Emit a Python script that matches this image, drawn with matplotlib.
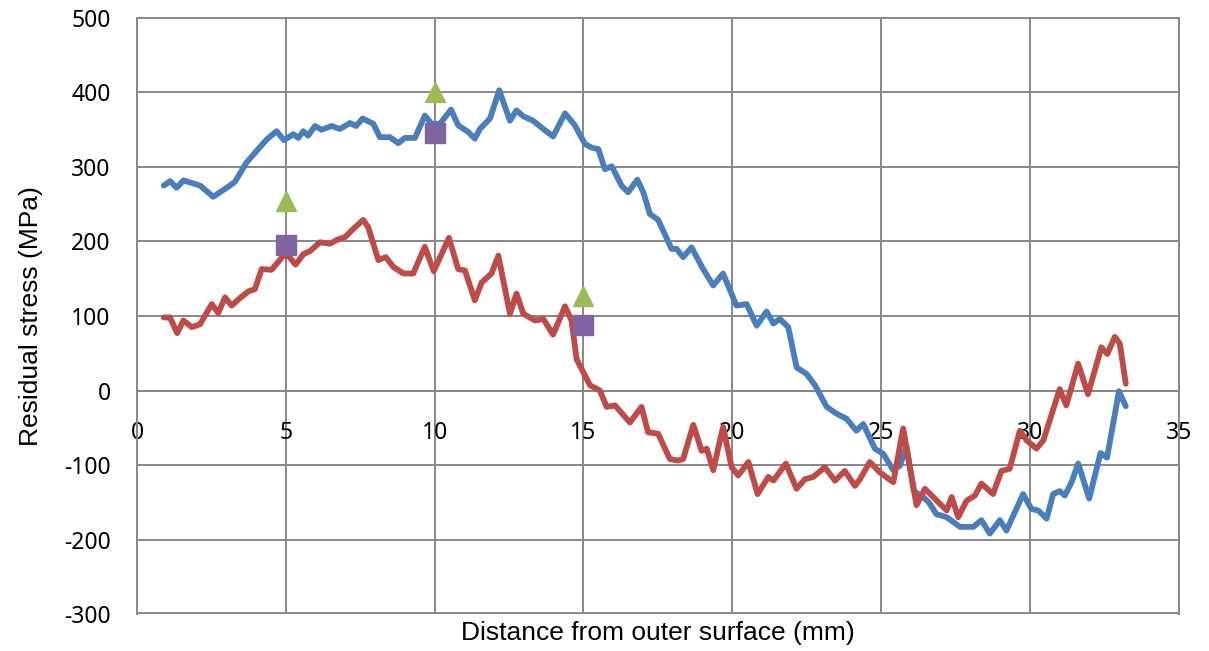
import matplotlib
matplotlib.use("Agg")
import matplotlib.pyplot as plt

plt.rcParams["axes.unicode_minus"] = False

# blue profile
blue_x = [0.9, 1.11, 1.33, 1.56, 2.12, 2.56, 3.01, 3.29, 3.68, 4.36, 4.69, 4.94, 5.25, 5.42, 5.59,
          5.75, 5.98, 6.2, 6.54, 6.82, 7.15, 7.36, 7.58, 7.94, 8.16, 8.5, 8.78, 9.0, 9.34, 9.67,
          9.9, 10.18, 10.55, 10.79, 11.13, 11.35, 11.52, 11.86, 12.17, 12.53, 12.75, 12.98, 13.31,
          13.65, 13.98, 14.38, 14.71, 15.05, 15.27, 15.5, 15.72, 15.95, 16.28, 16.5, 16.81, 17.01,
          17.23, 17.51, 17.96, 18.13, 18.35, 18.63, 19.02, 19.36, 19.69, 20.14, 20.48, 20.82,
          21.15, 21.38, 21.6, 21.88, 22.16, 22.5, 22.78, 23.17, 23.5, 23.84, 24.17, 24.4, 24.79,
          25.07, 25.41, 25.63, 25.85, 26.1, 26.41, 26.6, 26.86, 27.2, 27.65, 28.1, 28.37, 28.65,
          28.99, 29.21, 29.77, 30.05, 30.28, 30.56, 30.78, 31.0, 31.17, 31.4, 31.62, 31.99, 32.37,
          32.59, 32.99, 33.22]
blue_y = [275, 281, 272, 282, 275, 260, 272, 280, 306, 337, 348, 336, 344, 339, 348,
          342, 355, 350, 355, 351, 359, 355, 365, 358, 340, 340, 332, 339, 339, 369,
          358, 358, 377, 356, 347, 338, 351, 365, 403, 362, 376, 368, 362,
          351, 341, 372, 356, 331, 326, 324, 297, 301, 275, 266, 283, 266,
          237, 229, 190, 190, 179, 192, 163, 141, 157, 114, 116, 87,
          106, 90, 96, 85, 31, 22, 7, -22, -31, -38, -54, -45, -78,
          -85, -107, -101, -75, -135, -143, -150, -166, -170, -183, -183, -174, -192,
          -174, -188, -139, -159, -161, -172, -139, -135, -141, -123, -98, -145, -84,
          -90, -1, -21]

# red profile
red_x = [0.9, 1.11, 1.35, 1.56, 1.84, 2.12, 2.51, 2.73, 2.96, 3.18, 3.46, 3.74, 3.96, 4.19, 4.52,
         4.92, 5.08, 5.33, 5.59, 5.81, 6.15, 6.48, 6.76, 6.99, 7.27, 7.6, 7.77, 8.11, 8.36, 8.61,
         8.95, 9.28, 9.67, 9.97, 10.48, 10.79, 11.02, 11.35, 11.58, 11.91, 12.14, 12.53, 12.75,
         12.98, 13.37, 13.65, 13.98, 14.38, 14.6, 14.77, 14.99, 15.22, 15.55, 15.78, 16.06, 16.56,
         16.95, 17.17, 17.51, 17.9, 18.18, 18.35, 18.69, 18.97, 19.14, 19.36, 19.69, 19.98, 20.2,
         20.54, 20.85, 21.21, 21.38, 21.8, 22.16, 22.44, 22.72, 23.11, 23.45, 23.78, 24.12, 24.29,
         24.62, 24.96, 25.41, 25.74, 26.19, 26.47, 26.75, 27.2, 27.37, 27.59, 27.87, 28.15, 28.37,
         28.76, 29.04, 29.32, 29.66, 29.89, 30.22, 30.45, 31.0, 31.22, 31.62, 31.95, 32.4, 32.6,
         32.85, 33.02, 33.22]
red_y = [98, 98, 77, 94, 85, 89, 116, 104, 125, 114, 124, 133, 136, 163, 162,
         181, 181, 169, 183, 187, 199, 197, 203, 206, 217, 229, 219, 175, 179, 166,
         157, 157, 193, 160, 205, 163, 161, 121, 145, 157, 181, 103, 130,
         103, 94, 96, 75, 113, 94, 42, 25, 7, 0, -22, -20, -43,
         -22, -56, -58, -92, -94, -92, -46, -81, -78, -107, -49, -103, -114,
         -96, -139, -116, -121, -98, -132, -119, -116, -103, -121, -108, -128, -119,
         -96, -110, -123, -51, -154, -132, -143, -161, -143, -170, -148, -141, -125,
         -139, -108, -105, -54, -67, -78, -67, 2, -20, 36, -5, 58, 49,
         72, 63, 9]

# point measurements
mark_x = [5, 10, 15]
tri_y = [255, 400, 127]
sq_y = [195, 345, 88]

fig = plt.figure(figsize=(12.09, 6.51), dpi=100)
ax = fig.add_axes([0.1133, 0.0568, 0.975 - 0.1133, 0.9724 - 0.0568])

grid_col = "#878787"
ax.plot(blue_x, blue_y, color="#4A7EBB", lw=4.2, solid_capstyle="round", solid_joinstyle="round", zorder=3)
ax.plot(red_x, red_y, color="#BE4B48", lw=4.2, solid_capstyle="round", solid_joinstyle="round", zorder=4)
ax.plot(mark_x, tri_y, linestyle="none", marker="^", ms=15, color="#9BBB59", zorder=5)
ax.plot(mark_x, sq_y, linestyle="none", marker="s", ms=14.5, color="#8064A2", zorder=5)

ax.set_xlim(0, 35)
ax.set_ylim(-300, 500)
ax.set_xticks(range(0, 36, 5))
ax.set_yticks(range(-300, 501, 100))
ax.grid(True, color=grid_col, lw=1.4)
ax.set_axisbelow(True)

for side in ["left", "top", "right"]:
    ax.spines[side].set_color(grid_col)
    ax.spines[side].set_linewidth(1.4)
ax.spines["bottom"].set_position(("data", 0))
ax.spines["bottom"].set_color(grid_col)
ax.spines["bottom"].set_linewidth(1.4)
ax.axhline(-300, color=grid_col, lw=2.8, clip_on=True, zorder=1)

ax.tick_params(axis="both", length=0, labelsize=16.5)
ax.tick_params(axis="x", pad=22)
ax.tick_params(axis="y", pad=19)
for lab in ax.get_xticklabels() + ax.get_yticklabels():
    lab.set_fontfamily("Noto Sans")

fig.text(0.544, 0.027, "Distance from outer surface (mm)", ha="center", va="center",
         fontsize=19, family="Liberation Sans")
fig.text(0.026, 0.514, "Residual stress (MPa)", ha="center", va="center", rotation=90,
         fontsize=19, family="Liberation Sans")

fig.savefig("out.png", dpi=100)
